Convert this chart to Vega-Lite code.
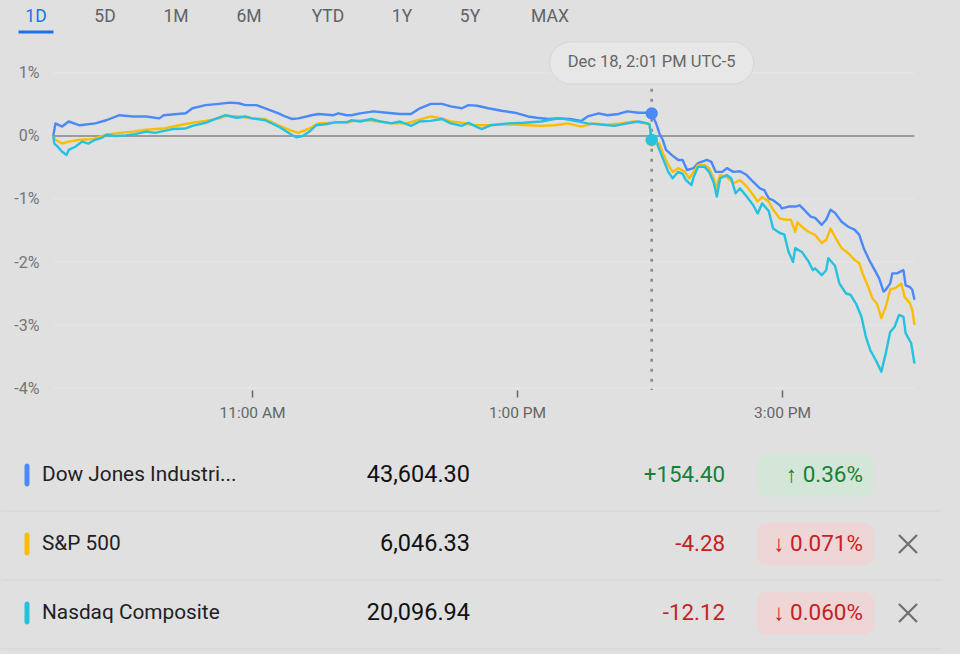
{
  "$schema": "https://vega.github.io/schema/vega-lite/v6.json",
  "background": "#e0e0e0",
  "padding": 0,
  "spacing": 0,
  "bounds": "flush",
  "config": {"font": "Roboto", "view": {"stroke": null}, "concat": {"spacing": 0}},
  "datasets": {
    "tabs": [
      {"tab": "1D", "i": 0, "active": true},
      {"tab": "5D", "i": 1, "active": false},
      {"tab": "1M", "i": 2, "active": false},
      {"tab": "6M", "i": 3, "active": false},
      {"tab": "YTD", "i": 4, "active": false},
      {"tab": "1Y", "i": 5, "active": false},
      {"tab": "5Y", "i": 6, "active": false},
      {"tab": "MAX", "i": 7, "active": false}
    ],
    "levels": [{"level": 1}, {"level": 0}, {"level": -1}, {"level": -2}, {"level": -3}, {"level": -4}],
    "cursor": [{"time": "2024-12-18T14:01", "label": "Dec 18, 2:01 PM UTC-5"}],
    "quotes": [
      {"sym": "DJI", "name": "Dow Jones Industrial Average", "price": "43,604.30", "change": "+154.40", "pct": "↑ 0.36%", "dir": "up", "closable": false},
      {"sym": "SPX", "name": "S&P 500", "price": "6,046.33", "change": "-4.28", "pct": "↓ 0.071%", "dir": "down", "closable": true},
      {"sym": "IXIC", "name": "Nasdaq Composite", "price": "20,096.94", "change": "-12.12", "pct": "↓ 0.060%", "dir": "down", "closable": true}
    ],
    "series": [
      {"sym": "DJI", "time": "2024-12-18T09:30", "pct": 0},
      {"sym": "DJI", "time": "2024-12-18T09:31", "pct": 0.2},
      {"sym": "DJI", "time": "2024-12-18T09:34", "pct": 0.15},
      {"sym": "DJI", "time": "2024-12-18T09:37", "pct": 0.23},
      {"sym": "DJI", "time": "2024-12-18T09:42", "pct": 0.17},
      {"sym": "DJI", "time": "2024-12-18T09:49", "pct": 0.2},
      {"sym": "DJI", "time": "2024-12-18T09:54", "pct": 0.25},
      {"sym": "DJI", "time": "2024-12-18T10:00", "pct": 0.33},
      {"sym": "DJI", "time": "2024-12-18T10:06", "pct": 0.31},
      {"sym": "DJI", "time": "2024-12-18T10:12", "pct": 0.31},
      {"sym": "DJI", "time": "2024-12-18T10:18", "pct": 0.28},
      {"sym": "DJI", "time": "2024-12-18T10:20", "pct": 0.33},
      {"sym": "DJI", "time": "2024-12-18T10:30", "pct": 0.36},
      {"sym": "DJI", "time": "2024-12-18T10:33", "pct": 0.44},
      {"sym": "DJI", "time": "2024-12-18T10:39", "pct": 0.49},
      {"sym": "DJI", "time": "2024-12-18T10:45", "pct": 0.51},
      {"sym": "DJI", "time": "2024-12-18T10:50", "pct": 0.53},
      {"sym": "DJI", "time": "2024-12-18T10:54", "pct": 0.52},
      {"sym": "DJI", "time": "2024-12-18T10:57", "pct": 0.49},
      {"sym": "DJI", "time": "2024-12-18T11:02", "pct": 0.49},
      {"sym": "DJI", "time": "2024-12-18T11:06", "pct": 0.44},
      {"sym": "DJI", "time": "2024-12-18T11:12", "pct": 0.36},
      {"sym": "DJI", "time": "2024-12-18T11:15", "pct": 0.31},
      {"sym": "DJI", "time": "2024-12-18T11:18", "pct": 0.27},
      {"sym": "DJI", "time": "2024-12-18T11:21", "pct": 0.28},
      {"sym": "DJI", "time": "2024-12-18T11:27", "pct": 0.33},
      {"sym": "DJI", "time": "2024-12-18T11:30", "pct": 0.35},
      {"sym": "DJI", "time": "2024-12-18T11:37", "pct": 0.33},
      {"sym": "DJI", "time": "2024-12-18T11:39", "pct": 0.36},
      {"sym": "DJI", "time": "2024-12-18T11:43", "pct": 0.33},
      {"sym": "DJI", "time": "2024-12-18T11:45", "pct": 0.33},
      {"sym": "DJI", "time": "2024-12-18T11:49", "pct": 0.36},
      {"sym": "DJI", "time": "2024-12-18T11:55", "pct": 0.39},
      {"sym": "DJI", "time": "2024-12-18T12:01", "pct": 0.37},
      {"sym": "DJI", "time": "2024-12-18T12:07", "pct": 0.35},
      {"sym": "DJI", "time": "2024-12-18T12:12", "pct": 0.35},
      {"sym": "DJI", "time": "2024-12-18T12:16", "pct": 0.44},
      {"sym": "DJI", "time": "2024-12-18T12:21", "pct": 0.51},
      {"sym": "DJI", "time": "2024-12-18T12:26", "pct": 0.51},
      {"sym": "DJI", "time": "2024-12-18T12:30", "pct": 0.47},
      {"sym": "DJI", "time": "2024-12-18T12:35", "pct": 0.44},
      {"sym": "DJI", "time": "2024-12-18T12:38", "pct": 0.49},
      {"sym": "DJI", "time": "2024-12-18T12:42", "pct": 0.48},
      {"sym": "DJI", "time": "2024-12-18T12:47", "pct": 0.44},
      {"sym": "DJI", "time": "2024-12-18T12:53", "pct": 0.4},
      {"sym": "DJI", "time": "2024-12-18T12:59", "pct": 0.37},
      {"sym": "DJI", "time": "2024-12-18T13:05", "pct": 0.31},
      {"sym": "DJI", "time": "2024-12-18T13:09", "pct": 0.29},
      {"sym": "DJI", "time": "2024-12-18T13:14", "pct": 0.27},
      {"sym": "DJI", "time": "2024-12-18T13:18", "pct": 0.28},
      {"sym": "DJI", "time": "2024-12-18T13:24", "pct": 0.27},
      {"sym": "DJI", "time": "2024-12-18T13:29", "pct": 0.24},
      {"sym": "DJI", "time": "2024-12-18T13:32", "pct": 0.31},
      {"sym": "DJI", "time": "2024-12-18T13:37", "pct": 0.36},
      {"sym": "DJI", "time": "2024-12-18T13:41", "pct": 0.33},
      {"sym": "DJI", "time": "2024-12-18T13:46", "pct": 0.35},
      {"sym": "DJI", "time": "2024-12-18T13:50", "pct": 0.39},
      {"sym": "DJI", "time": "2024-12-18T13:55", "pct": 0.37},
      {"sym": "DJI", "time": "2024-12-18T13:59", "pct": 0.37},
      {"sym": "DJI", "time": "2024-12-18T14:01", "pct": 0.36},
      {"sym": "DJI", "time": "2024-12-18T14:03", "pct": 0.2},
      {"sym": "DJI", "time": "2024-12-18T14:04:30", "pct": 0.04},
      {"sym": "DJI", "time": "2024-12-18T14:06", "pct": -0.06},
      {"sym": "DJI", "time": "2024-12-18T14:07:30", "pct": -0.22},
      {"sym": "DJI", "time": "2024-12-18T14:10", "pct": -0.3},
      {"sym": "DJI", "time": "2024-12-18T14:13", "pct": -0.38},
      {"sym": "DJI", "time": "2024-12-18T14:15", "pct": -0.38},
      {"sym": "DJI", "time": "2024-12-18T14:17", "pct": -0.54},
      {"sym": "DJI", "time": "2024-12-18T14:20", "pct": -0.51},
      {"sym": "DJI", "time": "2024-12-18T14:22", "pct": -0.43},
      {"sym": "DJI", "time": "2024-12-18T14:26", "pct": -0.38},
      {"sym": "DJI", "time": "2024-12-18T14:28", "pct": -0.41},
      {"sym": "DJI", "time": "2024-12-18T14:30", "pct": -0.57},
      {"sym": "DJI", "time": "2024-12-18T14:33", "pct": -0.57},
      {"sym": "DJI", "time": "2024-12-18T14:35", "pct": -0.51},
      {"sym": "DJI", "time": "2024-12-18T14:38", "pct": -0.57},
      {"sym": "DJI", "time": "2024-12-18T14:41", "pct": -0.56},
      {"sym": "DJI", "time": "2024-12-18T14:44", "pct": -0.62},
      {"sym": "DJI", "time": "2024-12-18T14:47", "pct": -0.73},
      {"sym": "DJI", "time": "2024-12-18T14:50", "pct": -0.83},
      {"sym": "DJI", "time": "2024-12-18T14:52", "pct": -0.86},
      {"sym": "DJI", "time": "2024-12-18T14:54", "pct": -0.99},
      {"sym": "DJI", "time": "2024-12-18T14:56", "pct": -1.02},
      {"sym": "DJI", "time": "2024-12-18T14:59", "pct": -1.1},
      {"sym": "DJI", "time": "2024-12-18T15:00", "pct": -1.15},
      {"sym": "DJI", "time": "2024-12-18T15:03", "pct": -1.12},
      {"sym": "DJI", "time": "2024-12-18T15:06", "pct": -1.12},
      {"sym": "DJI", "time": "2024-12-18T15:08", "pct": -1.1},
      {"sym": "DJI", "time": "2024-12-18T15:10", "pct": -1.17},
      {"sym": "DJI", "time": "2024-12-18T15:13", "pct": -1.28},
      {"sym": "DJI", "time": "2024-12-18T15:15", "pct": -1.3},
      {"sym": "DJI", "time": "2024-12-18T15:18", "pct": -1.41},
      {"sym": "DJI", "time": "2024-12-18T15:20", "pct": -1.33},
      {"sym": "DJI", "time": "2024-12-18T15:22", "pct": -1.17},
      {"sym": "DJI", "time": "2024-12-18T15:24", "pct": -1.22},
      {"sym": "DJI", "time": "2024-12-18T15:27", "pct": -1.36},
      {"sym": "DJI", "time": "2024-12-18T15:30", "pct": -1.44},
      {"sym": "DJI", "time": "2024-12-18T15:33", "pct": -1.49},
      {"sym": "DJI", "time": "2024-12-18T15:35", "pct": -1.57},
      {"sym": "DJI", "time": "2024-12-18T15:37", "pct": -1.78},
      {"sym": "DJI", "time": "2024-12-18T15:39:30", "pct": -1.97},
      {"sym": "DJI", "time": "2024-12-18T15:42", "pct": -2.13},
      {"sym": "DJI", "time": "2024-12-18T15:44", "pct": -2.26},
      {"sym": "DJI", "time": "2024-12-18T15:46", "pct": -2.47},
      {"sym": "DJI", "time": "2024-12-18T15:47", "pct": -2.44},
      {"sym": "DJI", "time": "2024-12-18T15:49", "pct": -2.34},
      {"sym": "DJI", "time": "2024-12-18T15:50", "pct": -2.18},
      {"sym": "DJI", "time": "2024-12-18T15:52", "pct": -2.18},
      {"sym": "DJI", "time": "2024-12-18T15:55", "pct": -2.13},
      {"sym": "DJI", "time": "2024-12-18T15:56", "pct": -2.37},
      {"sym": "DJI", "time": "2024-12-18T15:58", "pct": -2.4},
      {"sym": "DJI", "time": "2024-12-18T15:59", "pct": -2.44},
      {"sym": "DJI", "time": "2024-12-18T16:00", "pct": -2.6},
      {"sym": "SPX", "time": "2024-12-18T09:30", "pct": 0},
      {"sym": "SPX", "time": "2024-12-18T09:31", "pct": -0.06},
      {"sym": "SPX", "time": "2024-12-18T09:34", "pct": -0.12},
      {"sym": "SPX", "time": "2024-12-18T09:37", "pct": -0.09},
      {"sym": "SPX", "time": "2024-12-18T09:42", "pct": -0.06},
      {"sym": "SPX", "time": "2024-12-18T09:48", "pct": -0.05},
      {"sym": "SPX", "time": "2024-12-18T09:54", "pct": 0.02},
      {"sym": "SPX", "time": "2024-12-18T10:00", "pct": 0.05},
      {"sym": "SPX", "time": "2024-12-18T10:06", "pct": 0.07},
      {"sym": "SPX", "time": "2024-12-18T10:12", "pct": 0.1},
      {"sym": "SPX", "time": "2024-12-18T10:20", "pct": 0.12},
      {"sym": "SPX", "time": "2024-12-18T10:27", "pct": 0.17},
      {"sym": "SPX", "time": "2024-12-18T10:33", "pct": 0.21},
      {"sym": "SPX", "time": "2024-12-18T10:39", "pct": 0.24},
      {"sym": "SPX", "time": "2024-12-18T10:45", "pct": 0.28},
      {"sym": "SPX", "time": "2024-12-18T10:48", "pct": 0.32},
      {"sym": "SPX", "time": "2024-12-18T10:54", "pct": 0.31},
      {"sym": "SPX", "time": "2024-12-18T11:00", "pct": 0.28},
      {"sym": "SPX", "time": "2024-12-18T11:06", "pct": 0.27},
      {"sym": "SPX", "time": "2024-12-18T11:12", "pct": 0.17},
      {"sym": "SPX", "time": "2024-12-18T11:18", "pct": 0.08},
      {"sym": "SPX", "time": "2024-12-18T11:21", "pct": 0.05},
      {"sym": "SPX", "time": "2024-12-18T11:26", "pct": 0.12},
      {"sym": "SPX", "time": "2024-12-18T11:30", "pct": 0.2},
      {"sym": "SPX", "time": "2024-12-18T11:37", "pct": 0.21},
      {"sym": "SPX", "time": "2024-12-18T11:43", "pct": 0.21},
      {"sym": "SPX", "time": "2024-12-18T11:46", "pct": 0.24},
      {"sym": "SPX", "time": "2024-12-18T11:52", "pct": 0.25},
      {"sym": "SPX", "time": "2024-12-18T11:58", "pct": 0.23},
      {"sym": "SPX", "time": "2024-12-18T12:04", "pct": 0.2},
      {"sym": "SPX", "time": "2024-12-18T12:10", "pct": 0.2},
      {"sym": "SPX", "time": "2024-12-18T12:15", "pct": 0.25},
      {"sym": "SPX", "time": "2024-12-18T12:21", "pct": 0.31},
      {"sym": "SPX", "time": "2024-12-18T12:26", "pct": 0.28},
      {"sym": "SPX", "time": "2024-12-18T12:30", "pct": 0.23},
      {"sym": "SPX", "time": "2024-12-18T12:35", "pct": 0.21},
      {"sym": "SPX", "time": "2024-12-18T12:41", "pct": 0.17},
      {"sym": "SPX", "time": "2024-12-18T12:47", "pct": 0.17},
      {"sym": "SPX", "time": "2024-12-18T12:53", "pct": 0.18},
      {"sym": "SPX", "time": "2024-12-18T12:59", "pct": 0.18},
      {"sym": "SPX", "time": "2024-12-18T13:05", "pct": 0.17},
      {"sym": "SPX", "time": "2024-12-18T13:11", "pct": 0.16},
      {"sym": "SPX", "time": "2024-12-18T13:17", "pct": 0.17},
      {"sym": "SPX", "time": "2024-12-18T13:23", "pct": 0.2},
      {"sym": "SPX", "time": "2024-12-18T13:29", "pct": 0.15},
      {"sym": "SPX", "time": "2024-12-18T13:35", "pct": 0.2},
      {"sym": "SPX", "time": "2024-12-18T13:41", "pct": 0.18},
      {"sym": "SPX", "time": "2024-12-18T13:47", "pct": 0.2},
      {"sym": "SPX", "time": "2024-12-18T13:53", "pct": 0.23},
      {"sym": "SPX", "time": "2024-12-18T13:58", "pct": 0.2},
      {"sym": "SPX", "time": "2024-12-18T14:00", "pct": 0.19},
      {"sym": "SPX", "time": "2024-12-18T14:01", "pct": -0.07},
      {"sym": "SPX", "time": "2024-12-18T14:04:30", "pct": -0.12},
      {"sym": "SPX", "time": "2024-12-18T14:06", "pct": -0.27},
      {"sym": "SPX", "time": "2024-12-18T14:08:30", "pct": -0.46},
      {"sym": "SPX", "time": "2024-12-18T14:10:30", "pct": -0.57},
      {"sym": "SPX", "time": "2024-12-18T14:13", "pct": -0.51},
      {"sym": "SPX", "time": "2024-12-18T14:16", "pct": -0.57},
      {"sym": "SPX", "time": "2024-12-18T14:18", "pct": -0.67},
      {"sym": "SPX", "time": "2024-12-18T14:20", "pct": -0.57},
      {"sym": "SPX", "time": "2024-12-18T14:22", "pct": -0.46},
      {"sym": "SPX", "time": "2024-12-18T14:25", "pct": -0.46},
      {"sym": "SPX", "time": "2024-12-18T14:27", "pct": -0.51},
      {"sym": "SPX", "time": "2024-12-18T14:29", "pct": -0.67},
      {"sym": "SPX", "time": "2024-12-18T14:30", "pct": -0.83},
      {"sym": "SPX", "time": "2024-12-18T14:32", "pct": -0.62},
      {"sym": "SPX", "time": "2024-12-18T14:35", "pct": -0.65},
      {"sym": "SPX", "time": "2024-12-18T14:38", "pct": -0.75},
      {"sym": "SPX", "time": "2024-12-18T14:41", "pct": -0.7},
      {"sym": "SPX", "time": "2024-12-18T14:44", "pct": -0.8},
      {"sym": "SPX", "time": "2024-12-18T14:47", "pct": -0.94},
      {"sym": "SPX", "time": "2024-12-18T14:49", "pct": -1.04},
      {"sym": "SPX", "time": "2024-12-18T14:51", "pct": -0.97},
      {"sym": "SPX", "time": "2024-12-18T14:54", "pct": -1.04},
      {"sym": "SPX", "time": "2024-12-18T14:56", "pct": -1.17},
      {"sym": "SPX", "time": "2024-12-18T14:59", "pct": -1.31},
      {"sym": "SPX", "time": "2024-12-18T15:02", "pct": -1.33},
      {"sym": "SPX", "time": "2024-12-18T15:04", "pct": -1.33},
      {"sym": "SPX", "time": "2024-12-18T15:06", "pct": -1.52},
      {"sym": "SPX", "time": "2024-12-18T15:07", "pct": -1.37},
      {"sym": "SPX", "time": "2024-12-18T15:09", "pct": -1.44},
      {"sym": "SPX", "time": "2024-12-18T15:12", "pct": -1.52},
      {"sym": "SPX", "time": "2024-12-18T15:15", "pct": -1.57},
      {"sym": "SPX", "time": "2024-12-18T15:18", "pct": -1.7},
      {"sym": "SPX", "time": "2024-12-18T15:20", "pct": -1.65},
      {"sym": "SPX", "time": "2024-12-18T15:22", "pct": -1.47},
      {"sym": "SPX", "time": "2024-12-18T15:24", "pct": -1.6},
      {"sym": "SPX", "time": "2024-12-18T15:27", "pct": -1.78},
      {"sym": "SPX", "time": "2024-12-18T15:30", "pct": -1.86},
      {"sym": "SPX", "time": "2024-12-18T15:33", "pct": -1.97},
      {"sym": "SPX", "time": "2024-12-18T15:35", "pct": -2.02},
      {"sym": "SPX", "time": "2024-12-18T15:36:30", "pct": -2.18},
      {"sym": "SPX", "time": "2024-12-18T15:39", "pct": -2.39},
      {"sym": "SPX", "time": "2024-12-18T15:41", "pct": -2.58},
      {"sym": "SPX", "time": "2024-12-18T15:43", "pct": -2.66},
      {"sym": "SPX", "time": "2024-12-18T15:45", "pct": -2.89},
      {"sym": "SPX", "time": "2024-12-18T15:47", "pct": -2.71},
      {"sym": "SPX", "time": "2024-12-18T15:49", "pct": -2.44},
      {"sym": "SPX", "time": "2024-12-18T15:51:30", "pct": -2.41},
      {"sym": "SPX", "time": "2024-12-18T15:54", "pct": -2.34},
      {"sym": "SPX", "time": "2024-12-18T15:55:30", "pct": -2.55},
      {"sym": "SPX", "time": "2024-12-18T15:58", "pct": -2.66},
      {"sym": "SPX", "time": "2024-12-18T15:59", "pct": -2.76},
      {"sym": "SPX", "time": "2024-12-18T16:00", "pct": -3.0},
      {"sym": "IXIC", "time": "2024-12-18T09:30", "pct": 0},
      {"sym": "IXIC", "time": "2024-12-18T09:30:30", "pct": -0.12},
      {"sym": "IXIC", "time": "2024-12-18T09:32", "pct": -0.17},
      {"sym": "IXIC", "time": "2024-12-18T09:34", "pct": -0.25},
      {"sym": "IXIC", "time": "2024-12-18T09:36", "pct": -0.3},
      {"sym": "IXIC", "time": "2024-12-18T09:37", "pct": -0.22},
      {"sym": "IXIC", "time": "2024-12-18T09:40", "pct": -0.17},
      {"sym": "IXIC", "time": "2024-12-18T09:43", "pct": -0.09},
      {"sym": "IXIC", "time": "2024-12-18T09:46", "pct": -0.12},
      {"sym": "IXIC", "time": "2024-12-18T09:49", "pct": -0.06},
      {"sym": "IXIC", "time": "2024-12-18T09:52", "pct": -0.03},
      {"sym": "IXIC", "time": "2024-12-18T09:54", "pct": 0.02},
      {"sym": "IXIC", "time": "2024-12-18T09:58", "pct": 0.0},
      {"sym": "IXIC", "time": "2024-12-18T10:03", "pct": 0.01},
      {"sym": "IXIC", "time": "2024-12-18T10:07", "pct": 0.03},
      {"sym": "IXIC", "time": "2024-12-18T10:12", "pct": 0.07},
      {"sym": "IXIC", "time": "2024-12-18T10:16", "pct": 0.05},
      {"sym": "IXIC", "time": "2024-12-18T10:24", "pct": 0.11},
      {"sym": "IXIC", "time": "2024-12-18T10:30", "pct": 0.12},
      {"sym": "IXIC", "time": "2024-12-18T10:33", "pct": 0.16},
      {"sym": "IXIC", "time": "2024-12-18T10:39", "pct": 0.21},
      {"sym": "IXIC", "time": "2024-12-18T10:44", "pct": 0.28},
      {"sym": "IXIC", "time": "2024-12-18T10:48", "pct": 0.33},
      {"sym": "IXIC", "time": "2024-12-18T10:53", "pct": 0.29},
      {"sym": "IXIC", "time": "2024-12-18T10:57", "pct": 0.31},
      {"sym": "IXIC", "time": "2024-12-18T11:00", "pct": 0.28},
      {"sym": "IXIC", "time": "2024-12-18T11:06", "pct": 0.25},
      {"sym": "IXIC", "time": "2024-12-18T11:12", "pct": 0.15},
      {"sym": "IXIC", "time": "2024-12-18T11:17", "pct": 0.04},
      {"sym": "IXIC", "time": "2024-12-18T11:20", "pct": -0.02},
      {"sym": "IXIC", "time": "2024-12-18T11:23", "pct": 0.0},
      {"sym": "IXIC", "time": "2024-12-18T11:26", "pct": 0.07},
      {"sym": "IXIC", "time": "2024-12-18T11:29", "pct": 0.17},
      {"sym": "IXIC", "time": "2024-12-18T11:34", "pct": 0.19},
      {"sym": "IXIC", "time": "2024-12-18T11:38", "pct": 0.22},
      {"sym": "IXIC", "time": "2024-12-18T11:43", "pct": 0.22},
      {"sym": "IXIC", "time": "2024-12-18T11:45", "pct": 0.25},
      {"sym": "IXIC", "time": "2024-12-18T11:49", "pct": 0.23},
      {"sym": "IXIC", "time": "2024-12-18T11:54", "pct": 0.27},
      {"sym": "IXIC", "time": "2024-12-18T11:58", "pct": 0.23},
      {"sym": "IXIC", "time": "2024-12-18T12:03", "pct": 0.2},
      {"sym": "IXIC", "time": "2024-12-18T12:07", "pct": 0.23},
      {"sym": "IXIC", "time": "2024-12-18T12:12", "pct": 0.16},
      {"sym": "IXIC", "time": "2024-12-18T12:16", "pct": 0.23},
      {"sym": "IXIC", "time": "2024-12-18T12:21", "pct": 0.24},
      {"sym": "IXIC", "time": "2024-12-18T12:26", "pct": 0.27},
      {"sym": "IXIC", "time": "2024-12-18T12:30", "pct": 0.2},
      {"sym": "IXIC", "time": "2024-12-18T12:35", "pct": 0.16},
      {"sym": "IXIC", "time": "2024-12-18T12:38", "pct": 0.21},
      {"sym": "IXIC", "time": "2024-12-18T12:42", "pct": 0.14},
      {"sym": "IXIC", "time": "2024-12-18T12:44", "pct": 0.11},
      {"sym": "IXIC", "time": "2024-12-18T12:48", "pct": 0.17},
      {"sym": "IXIC", "time": "2024-12-18T12:56", "pct": 0.2},
      {"sym": "IXIC", "time": "2024-12-18T13:03", "pct": 0.21},
      {"sym": "IXIC", "time": "2024-12-18T13:11", "pct": 0.23},
      {"sym": "IXIC", "time": "2024-12-18T13:17", "pct": 0.27},
      {"sym": "IXIC", "time": "2024-12-18T13:20", "pct": 0.28},
      {"sym": "IXIC", "time": "2024-12-18T13:26", "pct": 0.24},
      {"sym": "IXIC", "time": "2024-12-18T13:32", "pct": 0.2},
      {"sym": "IXIC", "time": "2024-12-18T13:38", "pct": 0.18},
      {"sym": "IXIC", "time": "2024-12-18T13:44", "pct": 0.16},
      {"sym": "IXIC", "time": "2024-12-18T13:50", "pct": 0.2},
      {"sym": "IXIC", "time": "2024-12-18T13:55", "pct": 0.23},
      {"sym": "IXIC", "time": "2024-12-18T13:59", "pct": 0.2},
      {"sym": "IXIC", "time": "2024-12-18T14:00", "pct": 0.18},
      {"sym": "IXIC", "time": "2024-12-18T14:01", "pct": -0.06},
      {"sym": "IXIC", "time": "2024-12-18T14:03", "pct": -0.08},
      {"sym": "IXIC", "time": "2024-12-18T14:04:30", "pct": -0.22},
      {"sym": "IXIC", "time": "2024-12-18T14:06", "pct": -0.35},
      {"sym": "IXIC", "time": "2024-12-18T14:08:30", "pct": -0.57},
      {"sym": "IXIC", "time": "2024-12-18T14:10:30", "pct": -0.67},
      {"sym": "IXIC", "time": "2024-12-18T14:13", "pct": -0.57},
      {"sym": "IXIC", "time": "2024-12-18T14:15", "pct": -0.6},
      {"sym": "IXIC", "time": "2024-12-18T14:16:30", "pct": -0.7},
      {"sym": "IXIC", "time": "2024-12-18T14:19", "pct": -0.78},
      {"sym": "IXIC", "time": "2024-12-18T14:20", "pct": -0.65},
      {"sym": "IXIC", "time": "2024-12-18T14:22", "pct": -0.49},
      {"sym": "IXIC", "time": "2024-12-18T14:25", "pct": -0.49},
      {"sym": "IXIC", "time": "2024-12-18T14:27", "pct": -0.57},
      {"sym": "IXIC", "time": "2024-12-18T14:29", "pct": -0.73},
      {"sym": "IXIC", "time": "2024-12-18T14:30:30", "pct": -0.96},
      {"sym": "IXIC", "time": "2024-12-18T14:32", "pct": -0.67},
      {"sym": "IXIC", "time": "2024-12-18T14:35", "pct": -0.62},
      {"sym": "IXIC", "time": "2024-12-18T14:37", "pct": -0.67},
      {"sym": "IXIC", "time": "2024-12-18T14:39", "pct": -0.91},
      {"sym": "IXIC", "time": "2024-12-18T14:41", "pct": -0.83},
      {"sym": "IXIC", "time": "2024-12-18T14:44", "pct": -0.96},
      {"sym": "IXIC", "time": "2024-12-18T14:47", "pct": -1.1},
      {"sym": "IXIC", "time": "2024-12-18T14:49", "pct": -1.23},
      {"sym": "IXIC", "time": "2024-12-18T14:51", "pct": -1.07},
      {"sym": "IXIC", "time": "2024-12-18T14:54", "pct": -1.19},
      {"sym": "IXIC", "time": "2024-12-18T14:56", "pct": -1.47},
      {"sym": "IXIC", "time": "2024-12-18T14:59", "pct": -1.54},
      {"sym": "IXIC", "time": "2024-12-18T15:01", "pct": -1.56},
      {"sym": "IXIC", "time": "2024-12-18T15:03", "pct": -1.84},
      {"sym": "IXIC", "time": "2024-12-18T15:05", "pct": -2.0},
      {"sym": "IXIC", "time": "2024-12-18T15:06", "pct": -1.78},
      {"sym": "IXIC", "time": "2024-12-18T15:09", "pct": -1.84},
      {"sym": "IXIC", "time": "2024-12-18T15:12", "pct": -1.99},
      {"sym": "IXIC", "time": "2024-12-18T15:14", "pct": -2.13},
      {"sym": "IXIC", "time": "2024-12-18T15:15", "pct": -2.1},
      {"sym": "IXIC", "time": "2024-12-18T15:18", "pct": -2.21},
      {"sym": "IXIC", "time": "2024-12-18T15:20", "pct": -2.13},
      {"sym": "IXIC", "time": "2024-12-18T15:21", "pct": -1.94},
      {"sym": "IXIC", "time": "2024-12-18T15:24", "pct": -2.06},
      {"sym": "IXIC", "time": "2024-12-18T15:26", "pct": -2.34},
      {"sym": "IXIC", "time": "2024-12-18T15:29", "pct": -2.5},
      {"sym": "IXIC", "time": "2024-12-18T15:31", "pct": -2.52},
      {"sym": "IXIC", "time": "2024-12-18T15:33:30", "pct": -2.66},
      {"sym": "IXIC", "time": "2024-12-18T15:36", "pct": -2.87},
      {"sym": "IXIC", "time": "2024-12-18T15:38", "pct": -3.19},
      {"sym": "IXIC", "time": "2024-12-18T15:40", "pct": -3.4},
      {"sym": "IXIC", "time": "2024-12-18T15:42:30", "pct": -3.56},
      {"sym": "IXIC", "time": "2024-12-18T15:45", "pct": -3.74},
      {"sym": "IXIC", "time": "2024-12-18T15:47", "pct": -3.45},
      {"sym": "IXIC", "time": "2024-12-18T15:49", "pct": -3.11},
      {"sym": "IXIC", "time": "2024-12-18T15:51", "pct": -3.03},
      {"sym": "IXIC", "time": "2024-12-18T15:53", "pct": -2.84},
      {"sym": "IXIC", "time": "2024-12-18T15:55", "pct": -2.87},
      {"sym": "IXIC", "time": "2024-12-18T15:56", "pct": -3.13},
      {"sym": "IXIC", "time": "2024-12-18T15:58:30", "pct": -3.29},
      {"sym": "IXIC", "time": "2024-12-18T16:00", "pct": -3.61}
    ]
  },
  "vconcat": [
    {
      "width": 960,
      "height": 34,
      "data": {"name": "tabs"},
      "layer": [
        {
          "mark": {"type": "text", "fontSize": 17.5, "align": "center", "baseline": "middle"},
          "encoding": {
            "x": {"field": "i", "type": "quantitative", "scale": {"domain": [0, 1, 2, 3, 4, 5, 6, 7], "range": [35, 104, 175, 248, 327, 401, 469, 549], "nice": false, "zero": false}, "axis": null},
            "text": {"field": "tab"},
            "color": {"condition": {"test": "datum.active", "value": "#1a73e8"}, "value": "#5f6368"}
          }
        },
        {
          "transform": [{"filter": "datum.active"}],
          "mark": {"type": "point", "shape": "M -1 0.77 L 1 0.77 L 1 0.94 L -1 0.94 Z", "size": 1225, "filled": true, "color": "#1a73e8", "opacity": 1, "strokeWidth": 0},
          "encoding": {"x": {"field": "i", "type": "quantitative"}}
        }
      ]
    },
    {
      "width": 960,
      "height": 356,
      "layer": [
        {
          "data": {"name": "levels"},
          "transform": [{"filter": "datum.level != 0"}],
          "mark": {"type": "rule", "color": "#e7e7e7", "strokeWidth": 1},
          "encoding": {
            "y": {
              "field": "level", "type": "quantitative", "title": null,
              "scale": {"domain": [-4.0317, 1.619], "nice": false, "zero": false},
              "axis": {
                "title": null,
                "values": [1, 0, -1, -2, -3, -4],
                "labelExpr": "datum.value + '%'",
                "offset": -38,
                "ticks": false,
                "tickSize": 0,
                "domain": false,
                "grid": false,
                "labelPadding": 0,
                "labelFontSize": 16,
                "labelColor": "#757575"
              }
            },
            "x": {
              "datum": {"year": 2024, "month": 12, "date": 18, "hours": 9, "minutes": 30}, "type": "temporal", "title": null,
              "scale": {"domain": [{"year": 2024, "month": 12, "date": 18, "hours": 9, "minutes": 6, "seconds": 20}, {"year": 2024, "month": 12, "date": 18, "hours": 16, "minutes": 21, "seconds": 4}], "nice": false},
              "axis": {
                "title": null,
                "values": [{"year": 2024, "month": 12, "date": 18, "hours": 11}, {"year": 2024, "month": 12, "date": 18, "hours": 13}, {"year": 2024, "month": 12, "date": 18, "hours": 15}],
                "format": "%-I:%M %p",
                "labelFontSize": 15.5,
                "labelColor": "#666666",
                "tickSize": 7,
                "tickColor": "#666666",
                "tickWidth": 1.5,
                "domain": false,
                "grid": false,
                "labelPadding": 8
              }
            },
            "x2": {"datum": {"year": 2024, "month": 12, "date": 18, "hours": 16, "minutes": 0}}
          }
        },
        {
          "data": {"name": "levels"},
          "transform": [{"filter": "datum.level == 0"}],
          "mark": {"type": "rule", "color": "#868686", "strokeWidth": 1.6},
          "encoding": {
            "y": {"field": "level", "type": "quantitative", "title": null},
            "x": {"datum": {"year": 2024, "month": 12, "date": 18, "hours": 9, "minutes": 30}, "type": "temporal", "title": null},
            "x2": {"datum": {"year": 2024, "month": 12, "date": 18, "hours": 16, "minutes": 0}}
          }
        },
        {
          "data": {"name": "cursor"},
          "mark": {"type": "rule", "color": "#8a8a8a", "strokeWidth": 2.5, "strokeDash": [3, 7]},
          "encoding": {
            "x": {"field": "time", "type": "temporal", "title": null},
            "y": {"datum": 0.75, "type": "quantitative", "title": null},
            "y2": {"datum": -4.03}
          }
        },
        {
          "data": {"name": "series"},
          "mark": {"type": "line", "strokeWidth": 2.4, "strokeJoin": "round"},
          "encoding": {
            "x": {"field": "time", "type": "temporal", "title": null},
            "y": {"field": "pct", "type": "quantitative", "title": null},
            "color": {"field": "sym", "type": "nominal", "scale": {"domain": ["DJI", "SPX", "IXIC"], "range": ["#4a89f7", "#fbbc04", "#24c1e0"]}, "legend": null}
          }
        },
        {
          "data": {"name": "series"},
          "transform": [{"filter": {"field": "time", "equal": {"year": 2024, "month": 12, "date": 18, "hours": 14, "minutes": 1}}}],
          "mark": {"type": "point", "filled": true, "size": 150, "opacity": 1},
          "encoding": {
            "x": {"field": "time", "type": "temporal", "title": null},
            "y": {"field": "pct", "type": "quantitative", "title": null},
            "color": {"field": "sym", "type": "nominal", "legend": null}
          }
        },
        {
          "data": {"name": "cursor"},
          "mark": {"type": "point", "shape": "M -0.794 -0.206 L 0.794 -0.206 A 0.206 0.206 0 0 1 0.794 0.206 L -0.794 0.206 A 0.206 0.206 0 0 1 -0.794 -0.206 Z", "size": 41616, "filled": true, "fill": "#e7e7e7", "stroke": "#d6d6d6", "strokeWidth": 1, "opacity": 1},
          "encoding": {
            "x": {"field": "time", "type": "temporal", "title": null},
            "y": {"datum": 1.159, "type": "quantitative", "title": null}
          }
        },
        {
          "data": {"name": "cursor"},
          "mark": {"type": "text", "fontSize": 16.5, "color": "#666666", "align": "center", "baseline": "middle"},
          "encoding": {
            "x": {"field": "time", "type": "temporal", "title": null},
            "y": {"datum": 1.175, "type": "quantitative", "title": null},
            "text": {"field": "label"}
          }
        }
      ]
    },
    {
      "width": 960,
      "height": 264,
      "data": {"name": "quotes"},
      "encoding": {
        "y": {"field": "sym", "type": "nominal", "scale": {"type": "point", "domain": ["DJI", "SPX", "IXIC"], "range": [85, 223], "padding": 0}, "axis": null}
      },
      "layer": [
        {
          "mark": {"type": "rule", "color": "#d3d3d3", "strokeWidth": 1, "yOffset": 36},
          "encoding": {
            "x": {"datum": 0, "type": "quantitative", "scale": {"domain": [0, 1, 2, 3, 4, 5, 6, 7, 8, 9], "range": [0, 26, 41, 469, 724, 756, 862, 873, 907, 940], "nice": false, "zero": false}, "axis": null},
            "x2": {"datum": 9}
          }
        },
        {
          "mark": {"type": "tick", "thickness": 5, "size": 23, "opacity": 1, "cornerRadius": 2.5},
          "encoding": {
            "x": {"datum": 1, "type": "quantitative"},
            "color": {"field": "sym", "type": "nominal", "scale": {"domain": ["DJI", "SPX", "IXIC"], "range": ["#4a89f7", "#fbbc04", "#24c1e0"]}, "legend": null}
          }
        },
        {
          "mark": {"type": "text", "align": "left", "baseline": "middle", "fontSize": 20.8, "color": "#202124", "limit": 203, "ellipsis": "..."},
          "encoding": {
            "x": {"datum": 2, "type": "quantitative"},
            "text": {"field": "name"}
          }
        },
        {
          "mark": {"type": "text", "align": "right", "baseline": "middle", "fontSize": 23.5, "color": "#111111"},
          "encoding": {
            "x": {"datum": 3, "type": "quantitative"},
            "text": {"field": "price"}
          }
        },
        {
          "mark": {"type": "text", "align": "right", "baseline": "middle", "fontSize": 22.3},
          "encoding": {
            "x": {"datum": 4, "type": "quantitative"},
            "text": {"field": "change"},
            "color": {"condition": {"test": "datum.dir == 'up'", "value": "#188038"}, "value": "#c5221f"}
          }
        },
        {
          "mark": {"type": "bar", "height": 43, "cornerRadius": 10, "opacity": 1},
          "encoding": {
            "x": {"datum": 5, "type": "quantitative"},
            "x2": {"datum": 7},
            "color": {"condition": {"test": "datum.dir == 'up'", "value": "#d3e6d7"}, "value": "#eed6d6"}
          }
        },
        {
          "mark": {"type": "text", "align": "right", "baseline": "middle", "fontSize": 22.5},
          "encoding": {
            "x": {"datum": 6, "type": "quantitative"},
            "text": {"field": "pct"},
            "color": {"condition": {"test": "datum.dir == 'up'", "value": "#188038"}, "value": "#c5221f"}
          }
        },
        {
          "transform": [{"filter": "datum.closable"}],
          "mark": {"type": "point", "shape": "M -1 -1 L 1 1 M 1 -1 L -1 1", "size": 324, "filled": false, "stroke": "#6e6e6e", "strokeWidth": 2.2, "opacity": 1},
          "encoding": {
            "x": {"datum": 8, "type": "quantitative"}
          }
        }
      ]
    }
  ]
}
